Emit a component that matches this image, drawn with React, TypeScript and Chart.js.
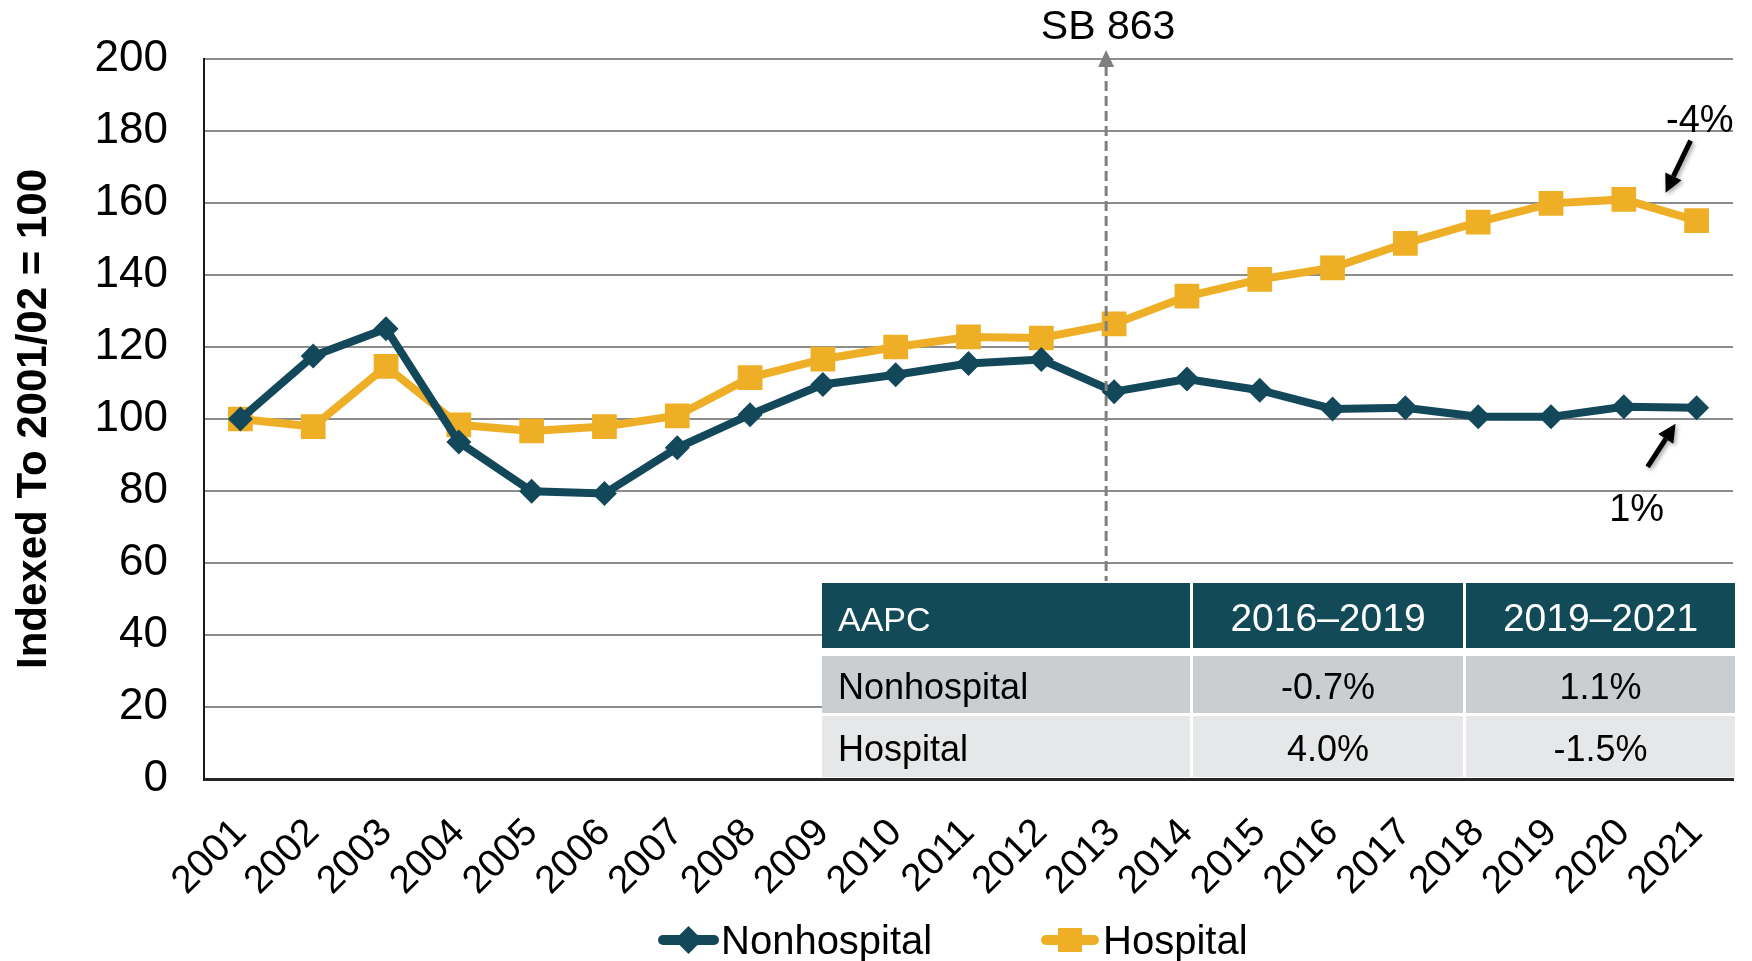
import React, { useEffect, useRef } from "react";
import { Chart, registerables } from "chart.js";

Chart.register(...registerables);

const FONT = "'Liberation Sans', Arial, Helvetica, sans-serif";

// ---- data ----
const years = [
  "2001", "2002", "2003", "2004", "2005", "2006", "2007", "2008", "2009", "2010", "2011",
  "2012", "2013", "2014", "2015", "2016", "2017", "2018", "2019", "2020", "2021",
];
const nonhospital = [
  100, 117.5, 125.1, 93.6, 79.9, 79.3, 92.0, 101.2, 109.6, 112.3, 115.4,
  116.5, 107.6, 111.1, 108.0, 102.8, 103.1, 100.6, 100.6, 103.4, 103.1,
];
const hospital = [
  100, 97.9, 114.6, 98.4, 96.7, 97.9, 100.9, 111.5, 116.6, 120.0, 122.8,
  122.5, 126.4, 134.1, 138.8, 142.0, 148.8, 154.7, 159.9, 161.0, 155.1,
];
const seriesNames = ["Nonhospital", "Hospital"];
const yAxisTitle = "Indexed To 2001/02 = 100";
const yMin = 0;
const yMax = 200;
const yStep = 20;
const policyLabel = "SB 863";
const policyYear = "2013";
const endChangeLabels = ["1%", "-4%"]; // nonhospital, hospital
const tableHeader = ["AAPC", "2016–2019", "2019–2021"];
const tableRowNonhospital = ["Nonhospital", "-0.7%", "1.1%"];
const tableRowHospital = ["Hospital", "4.0%", "-1.5%"];

// ---- styles ----
const NH_COLOR = "#12485A";
const H_COLOR = "#EEAF27";
const HEADER_BG = "#134A58";
const ROW1_BG = "#CBCED1";
const ROW2_BG = "#E6E7E8";

function drawArrow(ctx: CanvasRenderingContext2D, x1: number, y1: number, x2: number, y2: number) {
  const ang = Math.atan2(y2 - y1, x2 - x1);
  const head = 18;
  const hw = 9;
  const bx = x2 - head * Math.cos(ang);
  const by = y2 - head * Math.sin(ang);
  ctx.save();
  ctx.shadowColor = "rgba(0,0,0,0.35)";
  ctx.shadowBlur = 4;
  ctx.shadowOffsetX = 2;
  ctx.shadowOffsetY = 2;
  ctx.strokeStyle = "#000";
  ctx.fillStyle = "#000";
  ctx.lineWidth = 5;
  ctx.beginPath();
  ctx.moveTo(x1, y1);
  ctx.lineTo(bx, by);
  ctx.stroke();
  ctx.beginPath();
  ctx.moveTo(x2, y2);
  ctx.lineTo(bx + hw * Math.sin(ang), by - hw * Math.cos(ang));
  ctx.lineTo(bx - hw * Math.sin(ang), by + hw * Math.cos(ang));
  ctx.closePath();
  ctx.fill();
  ctx.restore();
}

const overlayPlugin = {
  id: "overlay",
  afterDatasetsDraw(chart: any) {
    const { ctx, scales } = chart;
    const idx = years.indexOf(policyYear);
    const x = scales.x.getPixelForValue(idx) - 8;
    ctx.save();
    ctx.strokeStyle = "#7f7f7f";
    ctx.lineWidth = 3;
    ctx.setLineDash([10, 5]);
    ctx.beginPath();
    ctx.moveTo(x, 66);
    ctx.lineTo(x, 581);
    ctx.stroke();
    ctx.setLineDash([]);
    ctx.fillStyle = "#7f7f7f";
    ctx.beginPath();
    ctx.moveTo(x, 50);
    ctx.lineTo(x - 8, 67);
    ctx.lineTo(x + 8, 67);
    ctx.closePath();
    ctx.fill();
    ctx.fillStyle = "#000";
    ctx.font = `41px ${FONT}`;
    ctx.textAlign = "center";
    ctx.textBaseline = "alphabetic";
    ctx.fillText(policyLabel, x + 2, 39);
    ctx.restore();
  },
  afterDraw(chart: any) {
    const { ctx, scales } = chart;
    const last = years.length - 1;
    const lx = scales.x.getPixelForValue(last);
    const nhY = scales.y.getPixelForValue(nonhospital[last]);
    const hY = scales.y.getPixelForValue(hospital[last]);

    // end-change annotations
    ctx.save();
    ctx.fillStyle = "#000";
    ctx.font = `38px ${FONT}`;
    ctx.textBaseline = "alphabetic";
    ctx.textAlign = "right";
    ctx.fillText(endChangeLabels[1], lx + 37, hY - 89);
    ctx.textAlign = "center";
    ctx.fillText(endChangeLabels[0], lx - 60, nhY + 113);
    ctx.restore();
    drawArrow(ctx, lx - 6, hY - 80, lx - 31, hY - 28);
    drawArrow(ctx, lx - 49, nhY + 59, lx - 21, nhY + 16);

    // table
    const cols = [
      [822, 1190],
      [1193, 1463],
      [1466, 1735],
    ];
    const rows = [
      [583, 648],
      [656, 713],
      [716, 777],
    ];
    const bgs = [HEADER_BG, ROW1_BG, ROW2_BG];
    const data = [tableHeader, tableRowNonhospital, tableRowHospital];
    ctx.save();
    ctx.fillStyle = "#fff";
    ctx.fillRect(cols[0][0], rows[0][0], cols[2][1] - cols[0][0], rows[2][1] - rows[0][0]);
    ctx.textBaseline = "alphabetic";
    for (let r = 0; r < 3; r++) {
      for (let c = 0; c < 3; c++) {
        ctx.fillStyle = bgs[r];
        ctx.fillRect(cols[c][0], rows[r][0], cols[c][1] - cols[c][0], rows[r][1] - rows[r][0]);
        ctx.fillStyle = r === 0 ? "#fff" : "#000";
        let size = 36;
        if (r === 0) size = c === 0 ? 34 : 39;
        ctx.font = `${size}px ${FONT}`;
        const baseline = (rows[r][0] + rows[r][1]) / 2 + 13 + (r === 0 ? 2 : 1);
        if (c === 0) {
          ctx.textAlign = "left";
          ctx.fillText(data[r][c], cols[c][0] + 16, baseline);
        } else {
          ctx.textAlign = "center";
          ctx.fillText(data[r][c], (cols[c][0] + cols[c][1]) / 2, baseline);
        }
      }
    }
    ctx.restore();

    // legend
    ctx.save();
    const ly = 940;
    ctx.lineCap = "round";
    ctx.lineWidth = 10;
    // Nonhospital
    ctx.strokeStyle = NH_COLOR;
    ctx.beginPath();
    ctx.moveTo(663, ly);
    ctx.lineTo(714, ly);
    ctx.stroke();
    ctx.fillStyle = NH_COLOR;
    ctx.beginPath();
    ctx.moveTo(688.5, ly - 14);
    ctx.lineTo(702.5, ly);
    ctx.lineTo(688.5, ly + 14);
    ctx.lineTo(674.5, ly);
    ctx.closePath();
    ctx.fill();
    // Hospital
    ctx.strokeStyle = H_COLOR;
    ctx.beginPath();
    ctx.moveTo(1046, ly);
    ctx.lineTo(1094, ly);
    ctx.stroke();
    ctx.fillStyle = H_COLOR;
    ctx.fillRect(1058, ly - 12, 24, 24);
    ctx.fillStyle = "#000";
    ctx.font = `40px ${FONT}`;
    ctx.textAlign = "left";
    ctx.textBaseline = "alphabetic";
    ctx.fillText(seriesNames[0], 721, ly + 14);
    ctx.fillText(seriesNames[1], 1103, ly + 14);
    ctx.restore();
  },
};

export default function App() {
  const ref = useRef<HTMLCanvasElement>(null);
  useEffect(() => {
    document.body.style.margin = "0";
    const chart = new Chart(ref.current as HTMLCanvasElement, {
      type: "line",
      data: {
        labels: years,
        datasets: [
          {
            label: seriesNames[0],
            data: nonhospital,
            borderColor: NH_COLOR,
            backgroundColor: NH_COLOR,
            borderWidth: 8,
            pointStyle: "rectRot",
            pointRadius: 12.5,
            pointBackgroundColor: NH_COLOR,
            pointBorderColor: NH_COLOR,
            pointBorderWidth: 0,
            tension: 0,
          },
          {
            label: seriesNames[1],
            data: hospital,
            borderColor: H_COLOR,
            backgroundColor: H_COLOR,
            borderWidth: 8,
            pointStyle: "rect",
            pointRadius: 17.5,
            pointBackgroundColor: H_COLOR,
            pointBorderColor: H_COLOR,
            pointBorderWidth: 0,
            tension: 0,
          },
        ],
      },
      options: {
        responsive: false,
        animation: false,
        devicePixelRatio: 1,
        layout: { padding: { top: 59, right: 19, bottom: 0, left: 0 } },
        plugins: {
          legend: { display: false },
          tooltip: { enabled: false },
        },
        scales: {
          x: {
            type: "category",
            offset: true,
            grid: { display: false, drawTicks: false },
            border: { display: true, color: "#262626", width: 3 },
            ticks: {
              color: "#000",
              font: { size: 39, family: FONT },
              maxRotation: 45,
              minRotation: 45,
              autoSkip: false,
              padding: 31,
            },
            afterFit: (s: any) => {
              s.height = 182;
              s.paddingLeft = 0;
              s.paddingRight = 0;
            },
          },
          y: {
            min: yMin,
            max: yMax,
            ticks: {
              stepSize: yStep,
              color: "#000",
              font: { size: 44, family: FONT },
              padding: 36,
            },
            grid: { color: "#8c8c8c", lineWidth: 2, drawTicks: false },
            border: { display: true, color: "#1a1a1a", width: 2 },
            title: {
              display: true,
              text: yAxisTitle,
              color: "#000",
              font: { size: 42, weight: "bold", family: FONT },
              padding: { top: 9, bottom: 0 },
            },
            afterFit: (s: any) => {
              s.width = 204;
              s.paddingTop = 0;
              s.paddingBottom = 0;
            },
          },
        },
      } as any,
      plugins: [overlayPlugin],
    });
    return () => chart.destroy();
  }, []);
  return (
    <canvas
      ref={ref}
      width={1752}
      height={961}
      style={{ display: "block", width: 1752, height: 961 }}
    />
  );
}
